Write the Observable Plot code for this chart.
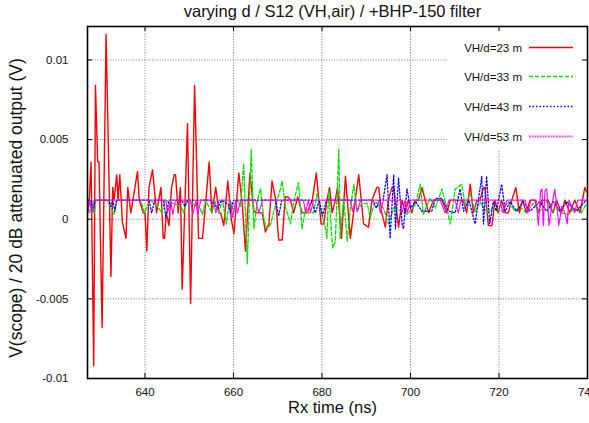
<!DOCTYPE html>
<html>
<head>
<meta charset="utf-8">
<script src="https://cdn.jsdelivr.net/npm/d3@7"></script>
<script src="https://cdn.jsdelivr.net/npm/@observablehq/plot@0.6"></script>
<style>
html, body { margin: 0; padding: 0; background: #fff; overflow: hidden; }
</style>
</head>
<body>
<div id="chart"></div>
<script>
// ---- data (time in ns, voltage in V) ----
const title = "varying d / S12 (VH,air) / +BHP-150 filter";
const xLabel = "Rx time (ns)";
const yLabel = "V(scope) / 20 dB attenuated output (V)";
const seriesLabels = ["VH/d=23 m", "VH/d=33 m", "VH/d=43 m", "VH/d=53 m"];
const xTicks = [640, 660, 680, 700, 720, 740];
const yTicks = [-0.01, -0.005, 0, 0.005, 0.01];

const d23 = [
[627.1,0.0006],[627.4,0.0012],[627.8,0.0036],[628.4,-0.0092],[628.8,0.0084],[629.3,0.0036],[629.6,0.0036],
[630.3,-0.0068],[631.2,0.0116],[632.3,-0.0036],[632.7,0.0020],[633.0,0.0012],[633.6,0.0028],[633.9,0.0012],
[634.3,0.0028],[634.9,-0.0002],[635.7,-0.0012],[636.1,0.0020],[636.8,0.0004],[638.3,0.0030],[638.7,0.0012],
[639.6,0.0004],[640.0,0.0004],[640.4,-0.0020],[640.9,0.0020],[641.7,0.0031],[642.6,0.0004],[643.6,0.0020],
[644.1,-0.0012],[644.4,-0.0012],[644.8,0.0004],[645.4,-0.0004],[646.0,0.0020],[646.6,0.0028],[646.9,0.0028],
[647.5,0.0004],[648.0,0.0020],[648.4,-0.0044],[649.6,0.0060],[650.3,-0.0053],[651.2,0.0084],[652.1,-0.0012],
[653.0,-0.0012],[654.5,0.0036],[655.1,0.0004],[656.0,0.0020],[656.7,0.0004],[657.1,0.0004],[657.8,-0.0004],
[658.7,0.0024],[659.5,0.0000],[660.1,-0.0009],[661.2,0.0029],[662.0,0.0009],[662.7,-0.0020],[663.7,0.0029],
[664.6,0.0005],[665.4,0.0004],[666.5,0.0004],[667.2,-0.0008],[668.0,-0.0003],[668.7,0.0024],[669.5,0.0013],
[670.2,-0.0013],[671.0,-0.0013],[671.7,0.0014],[672.3,0.0014],[672.9,0.0012],[673.6,0.0004],[674.5,0.0014],
[675.5,0.0004],[676.6,0.0004],[677.8,0.0012],[678.7,0.0029],[679.8,-0.0003],[680.4,-0.0003],[681.1,0.0012],
[681.7,0.0020],[682.3,0.0004],[683.0,0.0012],[683.5,0.0020],[684.4,-0.0012],[685.3,0.0027],[686.4,-0.0012],
[687.5,0.0012],[688.3,0.0028],[689.4,-0.0003],[690.5,-0.0005],[691.3,0.0012],[692.4,0.0020],[692.8,0.0020],
[693.5,0.0004],[694.3,-0.0005],[695.0,0.0012],[695.8,0.0020],[696.2,0.0020],[697.3,-0.0005],[698.1,0.0012],
[698.8,0.0004],[699.5,0.0012],[700.3,0.0004],[701.0,0.0012],[701.8,0.0012],[702.6,0.0020],[703.3,0.0012],
[704.1,0.0004],[705.2,0.0012],[707.1,0.0012],[708.2,0.0004],[709.0,0.0012],[710.8,0.0012],[711.9,0.0012],
[712.7,0.0004],[713.5,0.0022],[714.2,0.0004],[715.0,0.0012],[715.7,0.0012],[716.5,0.0020],[716.8,0.0020],
[717.6,-0.0004],[718.4,-0.0004],[719.1,0.0012],[719.8,0.0004],[720.6,0.0012],[721.4,0.0004],[722.1,0.0004],
[722.9,0.0012],[723.8,0.0020],[724.6,0.0004],[725.3,0.0012],[726.2,0.0004],[727.0,0.0012],[728.1,0.0012],
[728.9,0.0004],[729.6,0.0012],[731.1,0.0012],[732.2,0.0004],[733.0,0.0012],[734.1,0.0004],[734.9,0.0012],
[736.0,0.0004],[737.1,0.0012],[738.3,0.0004],[739.4,0.0020],[739.8,0.0017]
];

const d33 = [
[627.1,0.0008],[627.5,0.0004],[628.0,0.0012],[628.5,0.0004],[628.9,0.0012],[631.4,0.0012],[632.3,0.0007],
[633.0,0.0003],[633.6,0.0012],[635.9,0.0012],[639.0,0.0012],[639.9,0.0004],[640.6,0.0009],[641.3,0.0012],
[643.1,0.0007],[643.8,0.0004],[644.5,0.0012],[648.1,0.0008],[648.7,0.0004],[649.4,0.0012],[652.4,0.0007],
[653.0,0.0003],[653.7,0.0012],[655.1,0.0004],[655.7,0.0012],[656.6,0.0004],[657.5,0.0012],[658.4,-0.0003],
[659.1,0.0013],[660.0,0.0004],[660.9,0.0012],[661.6,0.0008],[662.3,0.0035],[663.1,-0.0028],[664.0,0.0044],
[664.6,-0.0006],[665.4,0.0012],[666.1,0.0019],[666.9,-0.0001],[667.6,-0.0006],[668.4,-0.0003],[669.1,0.0005],
[669.9,0.0012],[670.6,0.0019],[671.0,0.0024],[671.7,0.0008],[672.9,-0.0003],[673.6,0.0011],[674.7,0.0023],
[675.5,-0.0006],[676.3,0.0007],[677.0,0.0004],[678.1,0.0004],[678.9,0.0016],[679.6,0.0007],[680.8,-0.0006],
[681.1,-0.0012],[681.5,0.0018],[682.4,-0.0018],[683.0,-0.0014],[683.8,0.0044],[684.1,-0.0012],[684.9,0.0013],
[685.7,-0.0014],[686.4,0.0007],[687.2,0.0022],[687.9,0.0005],[689.0,0.0010],[690.2,0.0010],[690.9,0.0001],
[692.0,0.0011],[692.8,0.0009],[693.9,0.0007],[695.0,-0.0003],[696.2,0.0007],[698.1,0.0005],[699.2,0.0003],
[701.1,0.0009],[702.2,0.0022],[702.9,0.0003],[704.4,0.0013],[705.6,0.0007],[707.1,0.0019],[708.2,0.0007],
[709.0,-0.0003],[710.1,0.0019],[711.6,0.0022],[712.3,0.0009],[713.5,0.0016],[714.6,0.0005],[715.7,0.0011],
[717.2,0.0004],[718.7,0.0007],[720.6,0.0005],[722.1,0.0011],[723.6,0.0005],[724.7,0.0008],[726.2,0.0004],
[727.7,0.0010],[729.2,0.0005],[730.8,0.0011],[731.9,0.0005],[733.0,0.0007],[734.1,0.0004],[735.6,0.0003],
[737.1,0.0007],[738.6,0.0004],[739.8,0.0010]
];

const d43 = [
[627.1,0.0012],[627.8,0.0012],[628.2,0.0005],[628.7,0.0012],[631.8,0.0012],[632.3,0.0008],[632.7,0.0012],
[633.2,0.0005],[633.6,0.0012],[640.9,0.0012],[641.5,0.0004],[642.2,0.0012],[644.2,0.0012],[644.7,0.0001],
[645.4,0.0012],[648.3,0.0012],[649.0,0.0008],[649.7,0.0012],[654.8,0.0012],[656.4,0.0007],[657.3,0.0012],
[658.9,0.0009],[659.3,0.0004],[660.0,0.0012],[669.5,0.0012],[670.2,0.0002],[670.9,0.0012],[677.6,0.0012],
[678.5,0.0004],[679.4,0.0012],[680.1,0.0002],[681.0,0.0012],[691.4,0.0012],[692.3,0.0007],[693.0,0.0012],
[693.8,0.0012],[694.7,0.0028],[695.4,-0.0012],[696.2,0.0028],[696.6,-0.0006],[697.3,0.0026],[698.1,-0.0003],
[698.4,-0.0006],[699.2,0.0019],[700.0,0.0007],[701.1,0.0011],[702.6,0.0005],[704.8,0.0005],[705.6,0.0013],
[707.1,0.0013],[708.6,0.0005],[710.1,0.0004],[711.2,0.0019],[712.0,0.0005],[713.2,0.0012],[714.6,-0.0003],
[716.1,0.0027],[716.5,-0.0003],[717.2,0.0027],[717.9,-0.0003],[718.7,0.0011],[719.4,0.0005],[720.6,0.0022],
[721.4,0.0005],[722.5,0.0011],[724.0,0.0005],[725.5,0.0011],[727.0,0.0005],[729.2,0.0011],[730.8,0.0005],
[732.3,0.0011],[733.8,0.0005],[735.3,0.0011],[737.5,0.0005],[739.4,0.0011],[739.8,0.0012]
];

const d53 = [
[627.1,0.0004],[627.5,0.0012],[628.0,0.0004],[628.5,0.0012],[644.7,0.0012],[645.1,0.0004],[645.8,0.0012],
[646.3,0.0003],[646.9,0.0012],[650.3,0.0012],[650.8,0.0003],[651.5,0.0012],[651.9,0.0003],[652.6,0.0012],
[655.5,0.0012],[656.0,0.0004],[656.7,0.0012],[659.3,0.0012],[659.8,0.0001],[660.5,0.0012],[660.9,0.0004],
[661.6,0.0012],[665.0,0.0012],[665.7,0.0004],[666.6,0.0012],[675.8,0.0012],[676.3,0.0004],[676.9,0.0012],
[677.4,0.0004],[678.1,0.0012],[686.4,0.0012],[686.9,0.0005],[687.5,0.0012],[688.0,0.0005],[688.7,0.0012],
[692.7,0.0012],[693.2,0.0004],[693.9,0.0012],[697.7,0.0012],[698.1,0.0004],[698.8,0.0012],[699.3,0.0004],
[700.0,0.0012],[706.7,0.0012],[707.8,0.0004],[708.7,0.0012],[710.1,0.0012],[710.8,0.0004],[711.4,0.0012],
[720.2,0.0012],[720.9,0.0004],[721.8,0.0012],[725.9,0.0012],[726.5,0.0004],[727.2,0.0012],[728.4,0.0012],
[728.9,-0.0004],[729.4,0.0018],[729.7,0.0019],[730.0,-0.0004],[730.4,0.0018],[730.8,0.0019],[731.3,-0.0004],
[731.9,0.0008],[732.6,0.0019],[733.1,0.0008],[733.5,-0.0004],[734.2,0.0008],[734.9,0.0004],[735.4,-0.0003],
[735.8,0.0012],[737.1,0.0004],[737.8,0.0012],[739.8,0.0012]
];

// ---- layout / styles ----
const W = 589, H = 423;
const mL = 87, mR = 2, mT = 26, mB = 45;
const fw = W - mL - mR, fh = H - mT - mB;
const font = "'Liberation Sans', Arial, Helvetica, sans-serif";
const styles = [
  {stroke: "#ff0000", width: 1.4, dash: null},
  {stroke: "#00e000", width: 1.3, dash: "4,2"},
  {stroke: "#0000ff", width: 1.3, dash: "1.5,2"},
  {stroke: "#ff00ff", width: 1.2, dash: "1.5,1"}
];
const legendStyles = [
  {stroke: "#ff0000", width: 1.6, dash: null},
  {stroke: "#00e000", width: 1.5, dash: "4,2"},
  {stroke: "#0000ff", width: 1.5, dash: "1.5,2"},
  {stroke: "#ff55ff", width: 2, dash: "2,0.7"}
];
const allSeries = [d23, d33, d43, d53];
const tidy = allSeries.map(s => s.map(([t, v]) => ({t, v})));

const gridX = xTicks.filter(t => t < 740);
const gridY = yTicks.filter(v => v > -0.01);

function decor(index, scales, values, dims) {
  const g = d3.create("svg:g").attr("font-family", font).attr("fill", "#111");
  // legend background (hides grid)
  g.append("rect").attr("x", 448).attr("y", mT + 1).attr("width", W - mR - 448).attr("height", 124).attr("fill", "white");
  seriesLabels.forEach((lab, i) => {
    const y = Math.round(46.7 + i * 29.7) + 0.5;
    g.append("text").attr("x", 522).attr("y", y + 4).attr("text-anchor", "end")
      .attr("font-size", 11.5).text(lab);
    const st = legendStyles[i];
    const ln = g.append("line").attr("x1", 529).attr("x2", 573).attr("y1", y).attr("y2", y)
      .attr("stroke", st.stroke).attr("stroke-width", st.width);
    if (st.dash) ln.attr("stroke-dasharray", st.dash);
  });
  g.append("text").attr("x", 332.5).attr("y", 17).attr("text-anchor", "middle")
    .attr("font-size", 16.5).text(title);
  g.append("text").attr("x", 332.5).attr("y", 413).attr("text-anchor", "middle")
    .attr("font-size", 16.5).text(xLabel);
  g.append("text").attr("transform", "translate(22,208) rotate(-90)").attr("text-anchor", "middle")
    .attr("font-size", 17.5).text(yLabel);
  return g.node();
}

const chart = Plot.plot({
  width: W, height: H,
  marginLeft: mL, marginRight: mR, marginTop: mT, marginBottom: mB,
  style: {fontFamily: font, background: "white", color: "#111"},
  x: {domain: [627, 740]},
  y: {domain: [-0.01, 0.0121]},
  marks: [
    Plot.gridX(gridX, {stroke: "#777", strokeOpacity: 1, strokeWidth: 1, strokeDasharray: "1,1.6"}),
    Plot.gridY(gridY, {stroke: "#777", strokeOpacity: 1, strokeWidth: 1, strokeDasharray: "1,1.6"}),
    ...tidy.map((data, i) => Plot.line(data, {
      x: "t", y: "v", stroke: styles[i].stroke, strokeWidth: styles[i].width,
      strokeDasharray: styles[i].dash || undefined, clip: true
    })),
    decor,
    Plot.axisX({ticks: xTicks, tickSize: 0, tickPadding: 9, fontSize: 11.5, label: null, tickFormat: d => String(d)}),
    Plot.axisY({ticks: yTicks, tickSize: 0, tickPadding: 19, fontSize: 11.5, label: null, tickFormat: d => String(d)}),
    Plot.ruleX(xTicks, {stroke: "black", strokeWidth: 1, insetTop: fh - 5}),
    Plot.ruleX(xTicks, {stroke: "black", strokeWidth: 1, insetBottom: fh - 5}),
    Plot.ruleY(yTicks, {stroke: "black", strokeWidth: 1, insetRight: fw - 5}),
    Plot.ruleY(yTicks, {stroke: "black", strokeWidth: 1, insetLeft: fw - 5}),
    Plot.frame({stroke: "black", strokeWidth: 1.6})
  ]
});
document.getElementById("chart").appendChild(chart);
</script>
</body>
</html>
